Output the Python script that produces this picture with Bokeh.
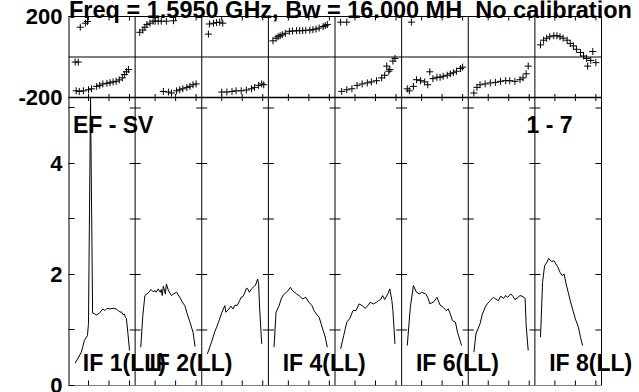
from bokeh.plotting import figure
from bokeh.models import Range1d, LinearAxis, FixedTicker, Label
from bokeh.embed import file_html
from bokeh.resources import INLINE

# ---------------- data ----------------
TITLE = "Freq = 1.5950 GHz, Bw = 16.000 MH \u00a0No calibration"
BASELINE_TEXT = "EF - SV"
ANTENNA_TEXT = "1 - 7"
IF_NAMES = ["IF 1(LL)", "IF 2(LL)", "IF 3(LL)", "IF 4(LL)",
            "IF 5(LL)", "IF 6(LL)", "IF 7(LL)", "IF 8(LL)"]
LABELED_IFS = [1, 2, 4, 6, 8]
CH_TICKS = [20, 40, 60]
AMP_LABEL_TICKS = [0, 2, 4]
AMP_MINOR_TICKS = [1, 3, 5]
PHASE_LABEL_TICKS = [-200, 200]

# amplitude spectra (channel, amplitude)
amp_ch_if1 = [7, 13, 16, 19, 20, 22, 24, 28, 31, 34, 36, 38, 41, 44, 47, 49, 51, 52, 54, 55, 56, 57, 59, 60]
amp_if1 = [0.40, 0.60, 0.81, 0.90, 1.12, 5.2, 1.31, 1.27, 1.31, 1.38, 1.35, 1.39, 1.38, 1.39, 1.38, 1.35,
           1.32, 1.33, 1.27, 1.29, 1.23, 1.21, 0.84, 0.63]
amp_ch_if2 = [6, 8, 10, 12, 14, 16, 18, 20, 21, 23, 25, 26, 27, 28, 30, 31, 33, 36, 38, 41, 44, 47, 49, 51, 54, 57, 59]
amp_if2 = [0.69, 1.26, 1.62, 1.65, 1.68, 1.73, 1.69, 1.71, 1.68, 1.74, 1.68, 1.73, 1.62, 1.79, 1.65, 1.83,
           1.71, 1.62, 1.65, 1.68, 1.59, 1.49, 1.44, 1.31, 1.14, 0.96, 0.70]
amp_ch_if3 = [6, 10, 13, 15, 18, 20, 23, 24, 27, 29, 31, 33, 35, 37, 39, 40, 42, 44, 45, 47, 49, 52, 53, 55, 56, 57, 59]
amp_if3 = [0.57, 0.78, 0.96, 1.05, 1.20, 1.31, 1.44, 1.32, 1.38, 1.43, 1.38, 1.45, 1.44, 1.51, 1.59, 1.59,
           1.65, 1.75, 1.75, 1.68, 1.74, 1.79, 1.81, 1.92, 1.83, 1.38, 0.75]
amp_ch_if4 = [6, 8, 11, 13, 15, 18, 19, 22, 24, 28, 31, 34, 37, 40, 43, 45, 48, 50, 52, 54, 56, 58]
amp_if4 = [0.69, 1.32, 1.44, 1.56, 1.63, 1.68, 1.69, 1.77, 1.71, 1.65, 1.61, 1.56, 1.59, 1.50, 1.44, 1.35,
           1.27, 1.23, 1.11, 0.99, 0.87, 0.69]
amp_ch_if5 = [6, 9, 12, 15, 18, 21, 24, 27, 30, 33, 35, 38, 41, 43, 45, 47, 49, 52, 54, 56, 57, 59]
amp_if5 = [0.66, 0.90, 1.14, 1.21, 1.35, 1.35, 1.47, 1.44, 1.39, 1.45, 1.50, 1.47, 1.50, 1.53, 1.55, 1.62,
           1.55, 1.65, 1.74, 1.53, 1.35, 0.75]
amp_ch_if6 = [6, 9, 12, 15, 18, 20, 24, 26, 28, 32, 35, 38, 41, 44, 46, 48, 50, 53, 55, 57, 59]
amp_if6 = [0.72, 1.41, 1.80, 1.68, 1.65, 1.68, 1.65, 1.59, 1.47, 1.51, 1.59, 1.45, 1.41, 1.35, 1.38, 1.29,
           1.17, 1.14, 0.96, 0.84, 0.72]
amp_ch_if7 = [6, 8, 12, 14, 17, 19, 21, 22, 25, 27, 30, 32, 35, 37, 39, 42, 44, 46, 48, 51, 53, 56, 57, 59]
amp_if7 = [0.60, 0.93, 1.11, 1.27, 1.41, 1.47, 1.51, 1.53, 1.59, 1.56, 1.53, 1.61, 1.57, 1.62, 1.59, 1.65,
           1.61, 1.55, 1.57, 1.62, 1.61, 1.57, 1.08, 0.63]
amp_ch_if8 = [6, 8, 10, 12, 14, 17, 19, 21, 23, 25, 27, 29, 31, 33, 35, 38, 40, 43, 45, 47]
amp_if8 = [0.87, 1.86, 2.16, 2.21, 2.29, 2.23, 2.25, 2.19, 2.13, 2.04, 1.98, 2.01, 1.83, 1.68, 1.53, 1.33,
           1.20, 1.05, 0.87, 0.72]

# phase spectra (channel, phase in degrees)
ph_ch_if1 = [7, 10, 12, 17, 19, 8, 11, 15, 20, 23, 28, 31, 34, 38, 41, 44, 47, 50, 53, 55, 57, 59]
ph_if1 = [-25, -25, 147, 167, 175, -167, -170, -167, -162, -157, -145, -140, -133, -130, -127, -123, -120,
          -113, -103, -87, -73, -62]
ph_ch_if2 = [5, 8, 10, 12, 15, 18, 20, 23, 26, 31, 38, 28, 33, 36, 41, 44, 47, 51, 54, 57, 60]
ph_if2 = [122, 133, 147, 160, 167, 177, 177, 177, 177, 177, 179, -170, -173, -178, -167, -162, -157, -150,
          -145, -137, -133]
ph_ch_if3 = [7, 8, 12, 15, 18, 21, 20, 25, 30, 34, 39, 44, 49, 52, 56, 59, 61]
ph_if3 = [113, 163, 167, 170, 172, 167, -173, -173, -170, -167, -167, -163, -157, -150, -140, -133, -137]
ph_ch_if4 = [5, 8, 10, 12, 14, 17, 21, 24, 28, 31, 34, 37, 41, 44, 47, 50, 54, 56, 58]
ph_if4 = [80, 93, 100, 105, 110, 117, 127, 128, 130, 130, 130, 132, 133, 135, 138, 143, 150, 155, 160]
ph_ch_if5 = [6, 12, 7, 12, 17, 22, 27, 32, 36, 41, 46, 49, 51, 53, 54, 57, 59]
ph_if5 = [172, 172, -170, -162, -157, -140, -133, -128, -123, -117, -103, -90, -45, -70, -62, -20, -7]
ph_ch_if6 = [10, 6, 8, 12, 15, 19, 23, 26, 28, 31, 35, 38, 41, 45, 48, 51, 54, 58, 60]
ph_if6 = [172, -157, -167, -145, -112, -117, -123, -137, -73, -107, -100, -100, -95, -90, -83, -78, -70,
          -57, -50]
ph_ch_if7 = [6, 9, 12, 17, 22, 27, 32, 37, 41, 46, 51, 54, 57, 59]
ph_if7 = [-178, -150, -137, -133, -128, -125, -120, -117, -117, -120, -112, -103, -83, -45]
ph_ch_if8 = [6, 9, 12, 15, 19, 22, 25, 28, 32, 35, 38, 41, 45, 48, 51, 52, 55, 57, 60]
ph_if8 = [60, 83, 93, 100, 105, 105, 100, 93, 83, 67, 55, 38, 22, 5, -7, -45, -17, 27, -28]

AMP_CH = [amp_ch_if1, amp_ch_if2, amp_ch_if3, amp_ch_if4, amp_ch_if5, amp_ch_if6, amp_ch_if7, amp_ch_if8]
AMP = [amp_if1, amp_if2, amp_if3, amp_if4, amp_if5, amp_if6, amp_if7, amp_if8]
PH_CH = [ph_ch_if1, ph_ch_if2, ph_ch_if3, ph_ch_if4, ph_ch_if5, ph_ch_if6, ph_ch_if7, ph_ch_if8]
PH = [ph_if1, ph_if2, ph_if3, ph_if4, ph_if5, ph_if6, ph_if7, ph_if8]

# ---------------- layout ----------------
W, H = 639, 392
FR_L, BOX_R, FR_B = 68, 601, 385    # frame left/bottom and right edge of the drawn box (px)
BOX_T = 16                           # top of the drawn box
JUNCTION = 97                        # canvas y of the phase/amplitude divide
AMP_PX = 55.5                        # px per amplitude unit
PANEL_W = 65                         # channel span of each IF panel
X0 = 0.5
X_END = X0 + 8 * PANEL_W
PX_PER_CH = (BOX_R - FR_L) / (PANEL_W * 8)
X_MAX = X_END + (W - BOX_R) / PX_PER_CH          # frame runs on to the canvas edge

AMP_MAX = round(FR_B / AMP_PX, 4)                 # amplitude at canvas top
AMP_TOP = round((FR_B - BOX_T) / AMP_PX, 4)       # amplitude at box top
AMP_DIV = round((FR_B - JUNCTION) / AMP_PX, 4)
DEG_PX = 400.0 / (JUNCTION - BOX_T)
PH_MAX = 200 + BOX_T * DEG_PX
PH_MIN = -200 - (FR_B - JUNCTION) * DEG_PX

FONT = "Liberation Sans"

p = figure(width=W, height=H, x_range=Range1d(X0, X_MAX), y_range=Range1d(0, AMP_MAX),
           output_backend="svg", toolbar_location=None,
           x_axis_location=None, y_axis_location=None,
           min_border_left=FR_L, min_border_right=0,
           min_border_top=0, min_border_bottom=H - FR_B)
p.extra_y_ranges = {"phase": Range1d(PH_MIN, PH_MAX)}
p.outline_line_color = None
p.background_fill_color = "white"
p.border_fill_color = "white"
p.grid.visible = False

x_ticks = [i * PANEL_W + t for i in range(8) for t in CH_TICKS]

left = LinearAxis(ticker=FixedTicker(ticks=AMP_LABEL_TICKS + [AMP_DIV, AMP_TOP], minor_ticks=AMP_MINOR_TICKS),
                  major_label_overrides={AMP_DIV: str(PHASE_LABEL_TICKS[0]), AMP_TOP: str(PHASE_LABEL_TICKS[1])},
                  major_label_text_font=FONT, major_label_text_font_style="bold",
                  major_label_text_font_size="22px", major_label_text_color="black",
                  major_label_standoff=6, major_tick_in=6, major_tick_out=0,
                  minor_tick_in=6, minor_tick_out=0, axis_line_color=None,
                  major_tick_line_color="black", minor_tick_line_color="black")
p.add_layout(left, "left")

# box edges, panel dividers
bounds = [X0 + i * PANEL_W for i in range(1, 8)]
vx = [X_END] + bounds
p.segment(x0=vx, y0=[0] * len(vx), x1=vx, y1=[AMP_TOP] * len(vx), line_color="black", line_width=1)
p.segment(x0=[X0], y0=[0], x1=[X0], y1=[AMP_TOP], line_color="black", line_width=2)
# bottom, top, phase/amplitude divide and phase zero line
p.segment(x0=[X0, X0], y0=[0, AMP_TOP], x1=[X_END, X_END], y1=[0, AMP_TOP],
          line_color="black", line_width=1.2)
p.segment(x0=[X0], y0=[AMP_DIV], x1=[X_END], y1=[AMP_DIV], line_color="black", line_width=1.5)
p.segment(x0=[X0], y0=[0], x1=[X_END], y1=[0], y_range_name="phase", line_color="black", line_width=1)

# tick marks on box edges, dividers and the divide
half = 5.5 / PX_PER_CH
sx0, sx1, sy0, sy1 = [], [], [], []
amp_ticks = sorted(AMP_MINOR_TICKS + AMP_LABEL_TICKS[1:])
for b in bounds:
    for a in amp_ticks:
        sx0.append(b - half); sx1.append(b + half); sy0.append(a); sy1.append(a)
for a in amp_ticks:  # right edge, pointing in
    sx0.append(X_END - 6 / PX_PER_CH); sx1.append(X_END); sy0.append(a); sy1.append(a)
for t in x_ticks:
    sx0 += [t, t, t]; sx1 += [t, t, t]
    sy0 += [0, AMP_DIV - 3.5 / AMP_PX, AMP_TOP - 4 / AMP_PX]
    sy1 += [5 / AMP_PX, AMP_DIV + 3.5 / AMP_PX, AMP_TOP]
p.segment(x0=sx0, y0=sy0, x1=sx1, y1=sy1, line_color="black", line_width=1)

# data
for i in range(8):
    xs = [i * PANEL_W + c for c in AMP_CH[i]]
    p.line(xs, AMP[i], line_color="black", line_width=1)
    px = [i * PANEL_W + c for c in PH_CH[i]]
    p.scatter(px, PH[i], marker="cross", size=7, line_color="black", line_width=1,
              y_range_name="phase")

# texts
def lab(x, y, text, size="23px"):
    p.add_layout(Label(x=x, y=y, text=text, text_font=FONT, text_font_style="bold",
                       text_font_size=size, text_color="black", text_baseline="alphabetic"))

lab(1.0, (FR_B - 10) / AMP_PX, TITLE, "23.5px")
lab(4.8, 4.70, BASELINE_TEXT)
lab(447.3, 4.70, ANTENNA_TEXT)
for k in LABELED_IFS:
    lab((k - 1) * PANEL_W + 14.5, 0.40, IF_NAMES[k - 1])

open("out.html", "w").write(file_html(p, INLINE))
